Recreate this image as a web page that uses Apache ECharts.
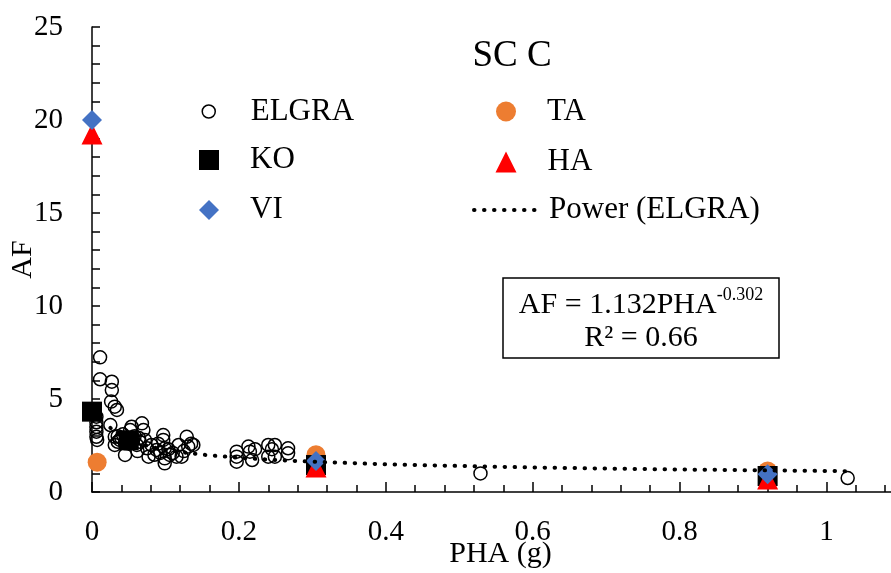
<!DOCTYPE html>
<html><head><meta charset="utf-8">
<script src="https://cdn.jsdelivr.net/npm/echarts@6/dist/echarts.min.js"></script>
<style>html,body{margin:0;padding:0;background:#fff}#c{width:891px;height:573px}</style>
</head><body><div id="c"></div>
<script>
const FONT = '"Liberation Serif","Times New Roman",serif';

// Axis ticks
const xTicks = [0, 0.2, 0.4, 0.6, 0.8, 1];
const xMinorTicks = [0,0.04,0.08,0.12,0.16,0.2,0.24,0.28,0.32,0.36,0.4,0.44,0.48,0.52,0.56,0.6,0.64,0.68,0.72,0.76,0.8,0.84,0.88,0.92,0.96,1.0,1.04,1.08];
const yTicks = [0, 5, 10, 15, 20, 25];

// ELGRA (hollow circles)
const elgraX = [0.006,0.006,0.006,0.006,0.006,0.007,0.011,0.011,0.026,0.027,0.027,0.031,0.034,0.025,0.031,0.031,0.038,0.045,0.045,0.052,0.054,0.056,0.061,0.068,0.070,0.072,0.075,0.077,0.081,0.088,0.097,0.097,0.099,0.099,0.099,0.106,0.115,0.118,0.129,0.131,0.138,0.122,0.040,0.050,0.065,0.085,0.110,0.062,0.035,0.197,0.197,0.197,0.213,0.215,0.218,0.240,0.240,0.249,0.249,0.267,0.267,0.245,0.222,0.529,1.029,0.035,0.042,0.048,0.058,0.064,0.090,0.093,0.104,0.125,0.135];
const elgraY = [4.05,3.75,3.50,3.24,2.97,2.80,7.24,6.06,4.86,5.93,5.48,4.59,4.41,3.60,2.97,2.53,2.80,2.62,1.99,3.33,3.51,2.80,2.53,3.69,3.33,2.80,2.35,1.90,2.53,2.26,3.06,2.80,2.35,1.81,1.54,1.99,1.90,2.53,2.97,2.44,2.53,1.90,2.90,2.60,2.70,2.00,2.10,2.20,3.00,2.17,1.90,1.63,2.44,2.17,1.72,2.53,1.90,2.53,1.90,2.35,2.08,2.30,2.30,1.00,0.75,2.70,3.10,2.90,3.00,2.90,2.60,2.10,2.30,2.20,2.60];

// Other methods
const taX = [0.007, 0.305, 0.920];
const taY = [1.60, 2.00, 1.13];
const koX = [0.000, 0.050, 0.305, 0.920];
const koY = [4.32, 2.78, 1.45, 0.86];
const haX = [0.000, 0.305, 0.920];
const haY = [19.25, 1.35, 0.70];
const viX = [0.000, 0.305, 0.920];
const viY = [20.00, 1.67, 0.95];

// Power trendline
const trendX = [0.025,0.03,0.04,0.05,0.06,0.08,0.1,0.12,0.15,0.2,0.25,0.3,0.4,0.5,0.6,0.7,0.8,0.9,1.0,1.029];
const trendY = [3.45,3.26,2.99,2.80,2.65,2.43,2.27,2.15,2.01,1.84,1.72,1.63,1.49,1.40,1.32,1.26,1.21,1.17,1.13,1.12];

const pairs = (xs, ys) => xs.map((x, i) => [x, ys[i]]);

const chart = echarts.init(document.getElementById('c'), null, {renderer: 'canvas'});

const DOT = {color: '#000', width: 4, type: [0.5, 9.5], cap: 'round'};
const legTxt = (pad) => ({fontFamily: FONT, fontSize: 31, color: '#000', lineHeight: 32, padding: [0, 0, 0, pad]});
function leg(name, left, top, w, h, pad, extra) {
  return {
    data: [Object.assign({name: name}, extra || {})],
    left: left, top: top, itemWidth: w, itemHeight: h, padding: 0, itemGap: 0,
    textStyle: legTxt(pad), selectedMode: false
  };
}

const option = {
  animation: false,
  backgroundColor: '#fff',
  grid: {left: 92, right: 0, top: 27, bottom: 81, containLabel: false, outerBoundsMode: 'none'},
  legend: [
    leg('ELGRA', 201.5, 95.5, 13, 13, 30.5, {itemStyle: {color: 'transparent', borderColor: '#000', borderWidth: 1.5, opacity: 1}}),
    leg('KO', 199, 144, 20, 20, 26, {itemStyle: {color: '#000', opacity: 1}}),
    leg('VI', 199, 194, 20, 20, 26, {itemStyle: {color: '#4472C4', opacity: 1}}),
    leg('TA', 496, 95.5, 20, 20, 26, {itemStyle: {color: '#ED7D31', opacity: 1}}),
    leg('HA', 495.5, 146, 21, 21, 26, {itemStyle: {color: '#FF0000', opacity: 1}}),
    leg('Power (ELGRA)', 472, 194, 61, 4, 9, {itemStyle: {opacity: 0}, lineStyle: DOT})
  ],
  xAxis: [{
    type: 'value', min: 0, max: 1.088, position: 'bottom',
    name: 'PHA (g)', nameLocation: 'middle', nameGap: 47, nameMoveOverlap: false,
    nameTextStyle: {fontFamily: FONT, fontSize: 30, color: '#000', padding: [0, 0, 0, 18]},
    axisLine: {show: true, lineStyle: {color: '#000', width: 1.5}},
    axisTick: {show: true, inside: true, length: 10, customValues: xTicks, lineStyle: {color: '#000', width: 1.5}},
    axisLabel: {show: true, customValues: xTicks, fontFamily: FONT, fontSize: 29, color: '#000', margin: 26},
    splitLine: {show: false}
  }, {
    type: 'value', min: 0, max: 1.088, position: 'bottom',
    axisLine: {show: false},
    axisTick: {show: true, inside: true, length: 7, customValues: xMinorTicks, lineStyle: {color: '#000', width: 1.5}},
    axisLabel: {show: false, customValues: xMinorTicks},
    splitLine: {show: false}
  }],
  yAxis: {
    type: 'value', min: 0, max: 25, interval: 5,
    name: 'AF', nameLocation: 'middle', nameGap: 54, nameRotate: 90, nameMoveOverlap: false,
    nameTextStyle: {fontFamily: FONT, fontSize: 30, color: '#000'},
    axisLine: {show: true, lineStyle: {color: '#000', width: 1.5}},
    axisTick: {show: true, inside: true, length: 8, lineStyle: {color: '#000', width: 1.5}},
    minorTick: {show: true, splitNumber: 5, length: 8, lineStyle: {color: '#000', width: 1.5}},
    axisLabel: {fontFamily: FONT, fontSize: 29, color: '#000', margin: 29},
    splitLine: {show: false},
    minorSplitLine: {show: false}
  },
  series: [
    {name: 'ELGRA', type: 'scatter', symbol: 'circle', symbolSize: 13,
     itemStyle: {color: 'transparent', borderColor: '#000', borderWidth: 1.5, opacity: 1},
     data: pairs(elgraX, elgraY)},
    {name: 'TA', type: 'scatter', symbol: 'circle', symbolSize: 19,
     itemStyle: {color: '#ED7D31', opacity: 1}, data: pairs(taX, taY)},
    {name: 'KO', type: 'scatter', symbol: 'rect', symbolSize: 20,
     itemStyle: {color: '#000', opacity: 1}, data: pairs(koX, koY)},
    {name: 'HA', type: 'scatter', symbol: 'triangle', symbolSize: 21,
     itemStyle: {color: '#FF0000', opacity: 1}, data: pairs(haX, haY)},
    {name: 'VI', type: 'scatter', symbol: 'diamond', symbolSize: 20,
     itemStyle: {color: '#4472C4', opacity: 1}, data: pairs(viX, viY)},
    {name: 'Power (ELGRA)', type: 'line', symbol: 'none', smooth: false,
     lineStyle: DOT, itemStyle: {color: '#000'},
     data: pairs(trendX, trendY), z: 5}
  ],
  graphic: [
    {type: 'text', x: 512, y: 56, style: {text: 'SC C', fontFamily: FONT, fontSize: 37, fill: '#000', align: 'center', verticalAlign: 'middle'}},
    {type: 'rect', shape: {x: 503, y: 278, width: 276, height: 80}, style: {fill: '#fff', stroke: '#000', lineWidth: 1.5}, z: 10},
    {type: 'text', x: 641, y: 303, z: 11, style: {
      text: '{a|AF = 1.132PHA}{s|-0.302}', align: 'center', verticalAlign: 'middle', fill: '#000',
      rich: {
        a: {fontFamily: FONT, fontSize: 30, lineHeight: 34, verticalAlign: 'bottom', fill: '#000'},
        s: {fontFamily: FONT, fontSize: 18, lineHeight: 34, verticalAlign: 'top', fill: '#000'}
      }}},
    {type: 'text', x: 641, y: 338, z: 11, style: {text: 'R² = 0.66', fontFamily: FONT, fontSize: 30, fill: '#000', align: 'center', verticalAlign: 'middle'}}
  ]
};
chart.setOption(option);
</script>
</body></html>
